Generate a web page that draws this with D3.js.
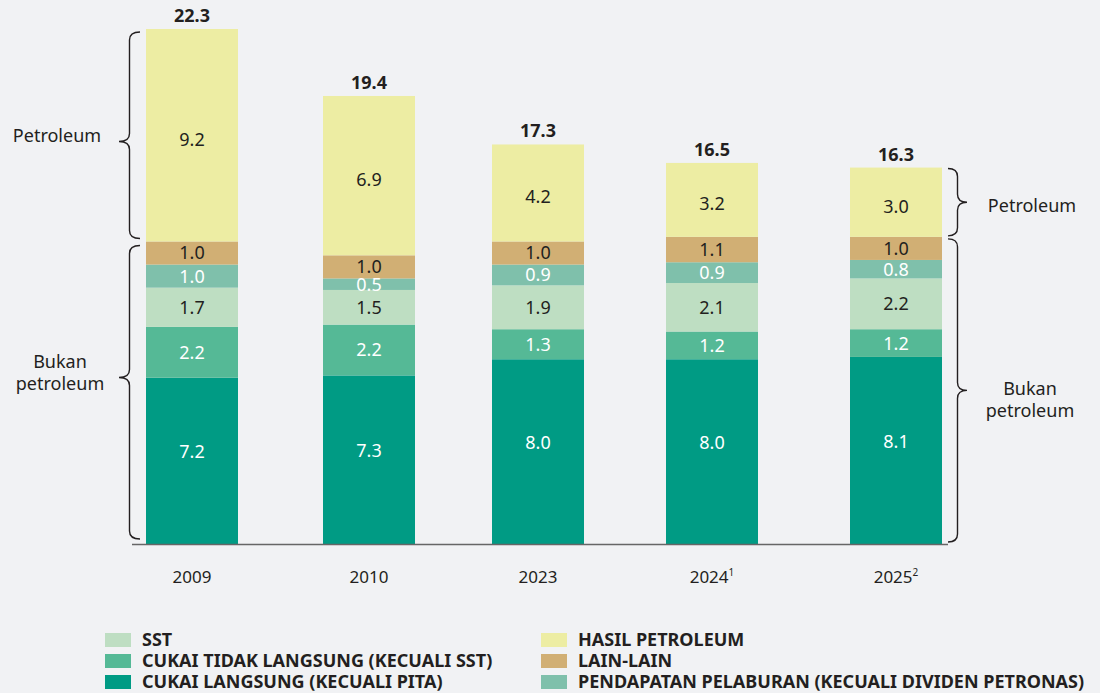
<!DOCTYPE html>
<html>
<head>
<meta charset="utf-8">
<script src="https://cdn.jsdelivr.net/npm/d3@7"></script>
<style>
  body { margin: 0; background: #f1f2f4; }
  svg { display: block; font-family: "Noto Sans", "Open Sans", sans-serif; }
</style>
</head>
<body>
<svg width="1100" height="693"></svg>
<script>
// data
const years = ['2009', '2010', '2023', '2024', '2025'];
const yearNotes = ['', '', '', '1', '2'];
const series = ['CUKAI LANGSUNG (KECUALI PITA)', 'CUKAI TIDAK LANGSUNG (KECUALI SST)', 'SST',
  'PENDAPATAN PELABURAN (KECUALI DIVIDEN PETRONAS)', 'LAIN-LAIN', 'HASIL PETROLEUM'];
const cukaiLangsung = [7.2, 7.3, 8.0, 8.0, 8.1];
const cukaiTidakLangsung = [2.2, 2.2, 1.3, 1.2, 1.2];
const sst = [1.7, 1.5, 1.9, 2.1, 2.2];
const pelaburan = [1.0, 0.5, 0.9, 0.9, 0.8];
const lainLain = [1.0, 1.0, 1.0, 1.1, 1.0];
const petroleum = [9.2, 6.9, 4.2, 3.2, 3.0];
const totals = [22.3, 19.4, 17.3, 16.5, 16.3];

const colors = ['#009b84', '#55b996', '#bedec2', '#7fc0ab', '#d1af74', '#ededa3'];
const labelColors = ['#fff', '#fff', '#231f20', '#fff', '#231f20', '#231f20'];
const labelShift = [-9, 0, 0, 0, 0, 4];
const ink = '#231f20';

const rows = years.map((y, i) => ({
  year: y, note: yearNotes[i], total: totals[i],
  s0: cukaiLangsung[i], s1: cukaiTidakLangsung[i], s2: sst[i],
  s3: pelaburan[i], s4: lainLain[i], s5: petroleum[i]
}));
const keys = ['s0', 's1', 's2', 's3', 's4', 's5'];

const svg = d3.select('svg');
const baseY = 544;
const barW = 92;

// bar centres (the source spaces them unevenly)
const xc = d3.scaleOrdinal()
  .domain(years)
  .range([192, 369, 538, 712, 896]);

const y = d3.scaleLinear()
  .domain([0, 22.3])
  .range([baseY, 29]);

const stacked = d3.stack().keys(keys)(rows);

// bars
const layers = svg.append('g').selectAll('g')
  .data(stacked)
  .join('g')
  .attr('fill', (d, i) => colors[i]);

layers.selectAll('rect')
  .data(d => d)
  .join('rect')
  .attr('x', d => xc(d.data.year) - barW / 2)
  .attr('width', barW)
  .attr('y', d => y(d[1]))
  .attr('height', d => y(d[0]) - y(d[1]));

// segment labels
stacked.forEach((layer, i) => {
  svg.append('g').selectAll('text')
    .data(layer)
    .join('text')
    .attr('x', d => xc(d.data.year))
    .attr('y', d => (y(d[0]) + y(d[1])) / 2 + labelShift[i])
    .attr('dy', '0.36em')
    .attr('text-anchor', 'middle')
    .attr('font-size', 18)
    .attr('fill', labelColors[i])
    .text(d => (d[1] - d[0]).toFixed(1));
});

// totals
svg.append('g').selectAll('text')
  .data(rows)
  .join('text')
  .attr('x', d => xc(d.year))
  .attr('y', d => y(d.total) - 7)
  .attr('text-anchor', 'middle')
  .attr('font-size', 18)
  .attr('font-weight', 'bold')
  .attr('fill', ink)
  .text(d => d.total.toFixed(1));

// axis line
svg.append('line')
  .attr('x1', xc('2009') - barW / 2 - 14)
  .attr('x2', xc('2025') + barW / 2 + 6)
  .attr('y1', baseY + 0.5)
  .attr('y2', baseY + 0.5)
  .attr('stroke', '#666')
  .attr('stroke-width', 1.5);

// x labels
const xLabels = svg.append('g').selectAll('text')
  .data(rows)
  .join('text')
  .attr('x', d => xc(d.year))
  .attr('y', baseY + 39)
  .attr('text-anchor', 'middle')
  .attr('font-size', 17)
  .attr('fill', ink);
xLabels.append('tspan').text(d => d.year);
xLabels.filter(d => d.note)
  .append('tspan').attr('font-size', 10).attr('dy', -7).text(d => d.note);

// braces
function brace(y0, y1, xb, xt, tipY, r) {
  const xm = (xb + xt) / 2;
  return `M${xb},${y0} Q${xm},${y0} ${xm},${y0 + r} L${xm},${tipY - r} Q${xm},${tipY} ${xt},${tipY}` +
    ` Q${xm},${tipY} ${xm},${tipY + r} L${xm},${y1 - r} Q${xm},${y1} ${xb},${y1}`;
}
const first = stacked.map(l => l[0]);
const last = stacked.map(l => l[4]);
const braces = [
  { y0: y(first[5][1]) + 3, y1: y(first[5][0]) - 3, xb: 140, xt: 119, tip: 0.53 },
  { y0: y(first[4][1]) + 4, y1: y(0) - 5, xb: 140, xt: 119, tip: 0.45 },
  { y0: y(last[5][1]) + 1, y1: y(last[5][0]) - 1, xb: 948, xt: 967, tip: 0.5 },
  { y0: y(last[4][1]) + 2, y1: y(0) - 2, xb: 948, xt: 967, tip: 0.5 }
];
svg.append('g').selectAll('path')
  .data(braces)
  .join('path')
  .attr('d', d => brace(d.y0, d.y1, d.xb, d.xt, d.y0 + (d.y1 - d.y0) * d.tip, 8))
  .attr('fill', 'none')
  .attr('stroke', ink)
  .attr('stroke-width', 1.4);

const sideLabels = [
  { x: 57, y: 135, lines: ['Petroleum'] },
  { x: 60, y: 361, lines: ['Bukan', 'petroleum'] },
  { x: 1032, y: 205, lines: ['Petroleum'] },
  { x: 1030, y: 388, lines: ['Bukan', 'petroleum'] }
];
sideLabels.forEach(s => {
  const t = svg.append('text')
    .attr('text-anchor', 'middle')
    .attr('font-size', 18)
    .attr('fill', ink);
  s.lines.forEach((l, i) => t.append('tspan')
    .attr('x', s.x)
    .attr('y', s.y + 6.5 + i * 22)
    .text(l));
});

// legend
const legendItems = [
  { key: 2, col: 0, row: 0 }, { key: 1, col: 0, row: 1 }, { key: 0, col: 0, row: 2 },
  { key: 5, col: 1, row: 0 }, { key: 4, col: 1, row: 1 }, { key: 3, col: 1, row: 2 }
];
const legend = svg.append('g').selectAll('g')
  .data(legendItems)
  .join('g')
  .attr('transform', d => `translate(${d.col ? 541 : 105}, ${633 + d.row * 21})`);
legend.append('rect')
  .attr('width', 26).attr('height', 14)
  .attr('fill', d => colors[d.key]);
legend.append('text')
  .attr('x', 37)
  .attr('y', 7)
  .attr('dy', '0.36em')
  .attr('font-size', 18)
  .attr('font-weight', 'bold')
  .attr('fill', ink)
  .text(d => series[d.key]);
</script>
</body>
</html>
